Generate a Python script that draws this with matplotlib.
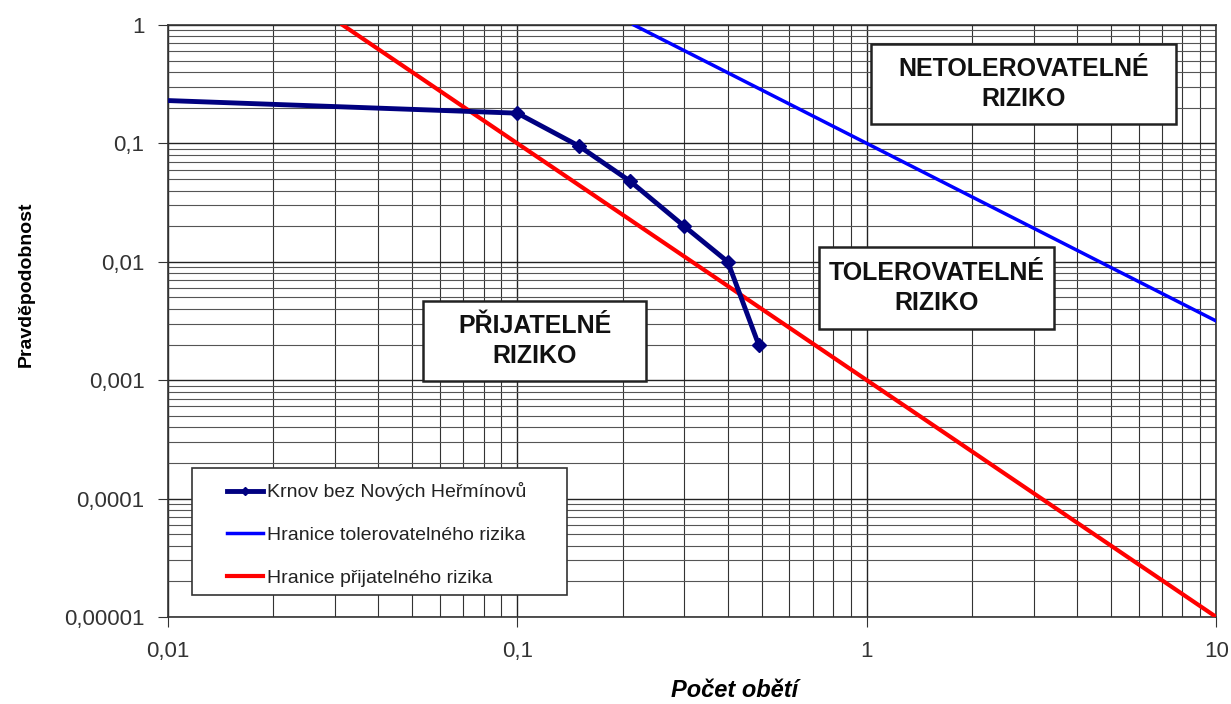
import numpy as np
import matplotlib.pyplot as plt
from matplotlib.patches import Rectangle
from matplotlib.ticker import LogLocator, FuncFormatter, NullFormatter

plt.rcParams['font.family'] = ['Liberation Sans', 'DejaVu Sans']

# data
krnov_x = [0.01, 0.1, 0.15, 0.21, 0.3, 0.4, 0.49]
krnov_y = [0.23, 0.18, 0.095, 0.048, 0.02, 0.01, 0.002]

tol_x = [0.2154, 10]
tol_y = [1.0, 0.00316]

acc_x = [0.0316, 10]
acc_y = [1.0, 0.00001]

labels = ['Krnov bez Nových Heřmínovů', 'Hranice tolerovatelného rizika', 'Hranice přijatelného rizika']

# region boxes: text, (x0, y0, x1, y1) in axes fractions
regions = [
    ('NETOLEROVATELNÉ\nRIZIKO', (0.6708, 0.8328, 0.9618, 0.9679)),
    ('TOLEROVATELNÉ\nRIZIKO', (0.6212, 0.4865, 0.8454, 0.6250)),
    ('PŘIJATELNÉ\nRIZIKO', (0.2433, 0.3986, 0.4561, 0.5338)),
]


def comma_fmt(v, pos):
    s = ('%.5f' % v).rstrip('0').rstrip('.')
    return s.replace('.', ',')


fig = plt.figure(figsize=(12.31, 7.04), dpi=100)
ax = fig.add_axes([0.1365, 0.1236, 0.8515, 0.8409])
ax.set_xscale('log')
ax.set_yscale('log')
ax.set_xlim(0.01, 10)
ax.set_ylim(1e-5, 1)

ax.xaxis.set_minor_locator(LogLocator(base=10, subs=np.arange(2, 10)))
ax.yaxis.set_minor_locator(LogLocator(base=10, subs=np.arange(2, 10)))
ax.xaxis.set_major_formatter(FuncFormatter(comma_fmt))
ax.yaxis.set_major_formatter(FuncFormatter(comma_fmt))
ax.xaxis.set_minor_formatter(NullFormatter())
ax.yaxis.set_minor_formatter(NullFormatter())

ax.grid(True, which='major', color='#222222', lw=1.0)
ax.grid(True, which='minor', axis='x', color='#333333', lw=0.8)
ax.grid(True, which='minor', axis='y', color='#555555', lw=0.8)
ax.set_axisbelow(True)

ax.tick_params(which='major', direction='out', length=7, labelsize=16, labelcolor='#333333',
               color='#333333', pad=10)
ax.tick_params(which='minor', length=0)
for s in ax.spines.values():
    s.set_color('#333333')
    s.set_linewidth(1.2)

ax.plot(krnov_x, krnov_y, color='#000080', lw=3.5, marker='D', ms=7,
        markevery=list(range(1, len(krnov_x))), label=labels[0], zorder=4)
ax.plot(tol_x, tol_y, color='#0000FF', lw=2.5, label=labels[1], zorder=3)
ax.plot(acc_x, acc_y, color='#FF0000', lw=3, label=labels[2], zorder=3)

ax.set_xlabel('Počet obětí', fontsize=17, fontweight='bold', style='italic')
ax.xaxis.set_label_coords(0.541, -0.104)
ax.set_ylabel('Pravděpodobnost', fontsize=14, fontweight='bold')
ax.yaxis.set_label_coords(-0.127, 0.562)

for txt, (x0, y0, x1, y1) in regions:
    ax.add_patch(Rectangle((x0, y0), x1 - x0, y1 - y0, transform=ax.transAxes,
                           fc='white', ec='#222222', lw=1.8, zorder=6))
    ax.text((x0 + x1) / 2, (y0 + y1) / 2, txt, transform=ax.transAxes, ha='center', va='center',
            fontsize=18, fontweight='bold', linespacing=1.3, color='#111111', zorder=7)

# legend frame drawn separately so its size matches the original
ax.add_patch(Rectangle((0.0229, 0.0372), 0.3578, 0.2145, transform=ax.transAxes,
                       fc='white', ec='#333333', lw=1.2, zorder=7))
leg = ax.legend(loc='upper left', bbox_to_anchor=(0.0563, 0.2275), borderaxespad=0,
                fontsize=14, frameon=False, handlelength=1.85, handletextpad=0.2,
                labelspacing=1.29, borderpad=0)
for t in leg.get_texts():
    t.set_color('#222222')
for h in leg.legend_handles:
    h.set_marker('')
leg.legend_handles[0].set_marker('D')
leg.legend_handles[0].set_markersize(4)
leg.set_zorder(8)

fig.savefig('out.png', dpi=100)
